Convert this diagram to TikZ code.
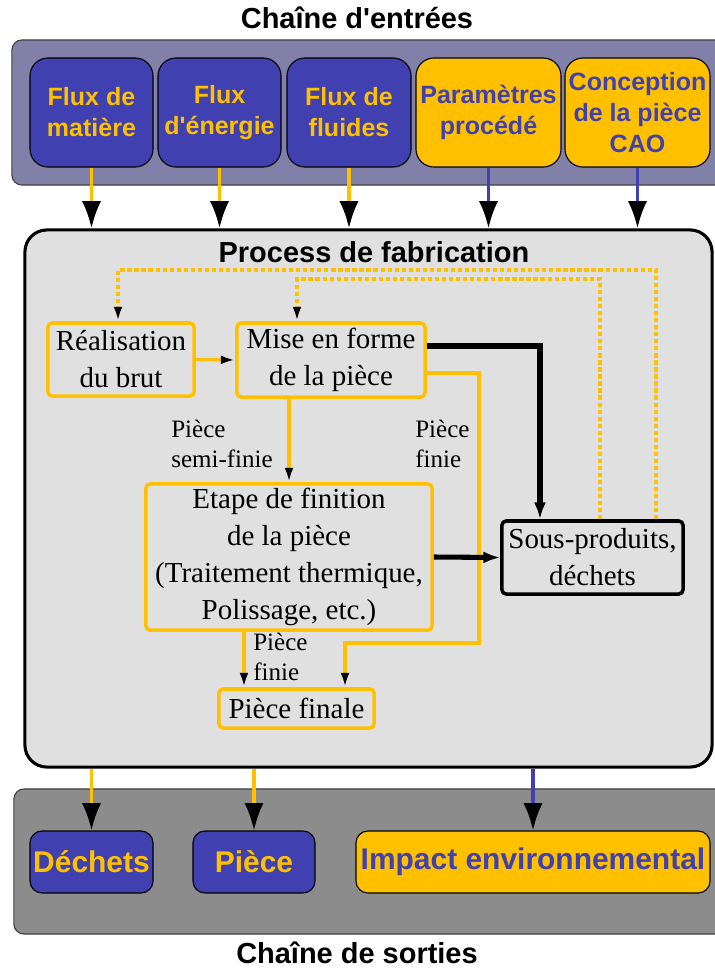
\documentclass[tikz,border=0pt]{standalone}
\usepackage{fontspec}
\setmainfont{Liberation Serif}
\newfontfamily\boxsans{Liberation Sans}
\usepackage{xcolor}
\usetikzlibrary{arrows.meta,positioning}

\definecolor{bandblue}{RGB}{128,128,168}
\definecolor{boxblue}{RGB}{64,64,176}
\definecolor{gold}{RGB}{255,192,0}
\definecolor{procgray}{RGB}{224,224,224}
\definecolor{outgray}{RGB}{140,140,140}

\begin{document}
\begin{tikzpicture}[x=0.025cm, y=-0.025cm, >={Latex},
  title/.style={font=\boxsans\bfseries\fontsize{20.6}{24}\selectfont},
  chainband/.style={draw=black!75, line width=0.8pt, rounded corners=0.25cm, inner sep=0pt, minimum height=3.625cm},
  inbox/.style={draw=black, line width=0.8pt, rounded corners=0.45cm, inner sep=0pt, align=center, minimum height=2.725cm, font=\boxsans\bfseries\fontsize{17.8}{22}\selectfont},
  outbox/.style={draw=black, line width=0.8pt, rounded corners=0.3cm, inner sep=0pt, align=center, minimum height=1.55cm, font=\boxsans\bfseries\fontsize{21.3}{25}\selectfont},
  bluebox/.style={fill=boxblue, text=gold},
  goldbox/.style={fill=gold, text=boxblue},
  stepbox/.style={draw=gold, line width=2.5pt, rounded corners=3pt, inner sep=0pt, align=center, font=\fontsize{20.6}{26.3}\selectfont},
  wastebox/.style={stepbox, draw=black},
  lbl/.style={anchor=west, align=left, inner sep=0pt, font=\fontsize{17.8}{21.3}\selectfont},
  bigflow/.style={line width=2.2pt, -{Latex[length=0.68cm, width=0.48cm, color=black]}},
  flow/.style={draw=gold, line width=2.2pt, -{Latex[length=0.36cm, width=0.22cm, color=black]}},
  wasteflow/.style={draw=black, line width=3.6pt, -{Latex[length=0.42cm, width=0.3cm]}},
  dotflow/.style={draw=gold, line width=2.8pt, dash pattern=on 3pt off 2pt, -{Latex[length=0.36cm, width=0.22cm, color=black]}}]

  \useasboundingbox (0,0) rectangle (715,968);
  \clip (0,0) rectangle (715,968);

  % Input chain
  \node[title] (titlein) at (357,18) {Chaîne d'entrées};
  \node[chainband, fill=bandblue, minimum width=17.825cm] (bandin) at (368.5,112.5) {};
  \node[inbox, bluebox, minimum width=3.075cm] (flux1) at (91.5,112.5) {Flux de\\matière};
  \node[inbox, bluebox, minimum width=3.075cm] (flux2) at (219.5,112.5) {Flux\\d'énergie};
  \node[inbox, bluebox, minimum width=3.1cm] (flux3) at (349,112.5) {Flux de\\fluides};
  \node[inbox, goldbox, minimum width=3.625cm] (param) at (488.5,112.5) {Paramètres\\procédé};
  \node[inbox, goldbox, minimum width=3.625cm] (cao) at (637.5,112.5) {Conception\\de la pièce\\CAO};

  % Process
  \node[draw=black, line width=2.2pt, fill=procgray, rounded corners=0.55cm, minimum width=17.175cm, minimum height=13.425cm] (proc) at (368.5,498.5) {};
  \node[title] (titleproc) at (374,252) {Process de fabrication};
  \node[stepbox, minimum width=3.65cm, minimum height=1.825cm] (real) at (121,359.5) {Réalisation\\du brut};
  \node[stepbox, minimum width=4.7cm, minimum height=1.85cm] (mise) at (331,360) {Mise en forme\\de la pièce};
  \node[stepbox, minimum width=7.15cm, minimum height=3.65cm] (etape) at (289,557) {Etape de finition\\de la pièce\\(Traitement thermique,\\Polissage, etc.)};
  \node[wastebox, minimum width=4.525cm, minimum height=1.825cm] (sous) at (592.5,557.5) {Sous-produits,\\déchets};
  \node[stepbox, minimum width=3.875cm, minimum height=0.975cm] (finale) at (296.5,708.5) {Pièce finale};
  \node[lbl] (lblsemi) at (171,444) {Pièce\\semi-finie};
  \node[lbl] (lblfinie) at (415,444) {Pièce\\finie};
  \node[lbl] (lblfinie2) at (253,657) {Pièce\\finie};

  % Output chain
  \node[chainband, fill=outgray, minimum width=17.9cm] (bandout) at (372,861.5) {};
  \node[outbox, bluebox, minimum width=3.075cm] (dechets) at (91.5,862) {Déchets};
  \node[outbox, bluebox, minimum width=3.05cm] (piece) at (254,862) {Pièce};
  \node[outbox, goldbox, minimum width=8.85cm] (impact) at (533,862) {Impact environnemental};
  \node[title] (titleout) at (357,953) {Chaîne de sorties};

  % Inputs into the process
  \draw[bigflow, draw=gold] (flux1.south) -- (flux1.south |- proc.north);
  \draw[bigflow, draw=gold] (flux2.south) -- (flux2.south |- proc.north);
  \draw[bigflow, draw=gold] (flux3.south) -- (flux3.south |- proc.north);
  \draw[bigflow, draw=boxblue] (param.south) -- (param.south |- proc.north);
  \draw[bigflow, draw=boxblue] (cao.south) -- (cao.south |- proc.north);

  % Flows inside the process
  \draw[flow] (real.east) -- (mise.west);
  \draw[flow] (etape.north |- mise.south) -- (etape.north);
  \draw[flow] ([yshift=-0.325cm]mise.east) -| (479,643) -| ([xshift=1.2125cm]finale.north);
  \draw[flow] ([xshift=-1.3125cm]finale.north |- etape.south) -- ([xshift=-1.3125cm]finale.north);
  \draw[wasteflow] ([yshift=0.35cm]mise.east) -| ([xshift=-1.3125cm]sous.north);
  \draw[wasteflow] (etape.east) -- (sous.west);
  \draw[dotflow] ([xshift=1.5875cm]sous.north) -- ++(0,-249) -| ([xshift=-0.075cm]real.north);
  \draw[dotflow] ([xshift=0.1875cm]sous.north) -- ++(0,-240) -| ([xshift=-0.85cm]mise.north);

  % Outputs of the process
  \draw[bigflow, draw=gold] (proc.south -| dechets.north) -- (dechets.north);
  \draw[bigflow, draw=gold] (proc.south -| piece.north) -- (piece.north);
  \draw[bigflow, draw=boxblue] (proc.south -| impact.north) -- (impact.north);
\end{tikzpicture}
\end{document}
